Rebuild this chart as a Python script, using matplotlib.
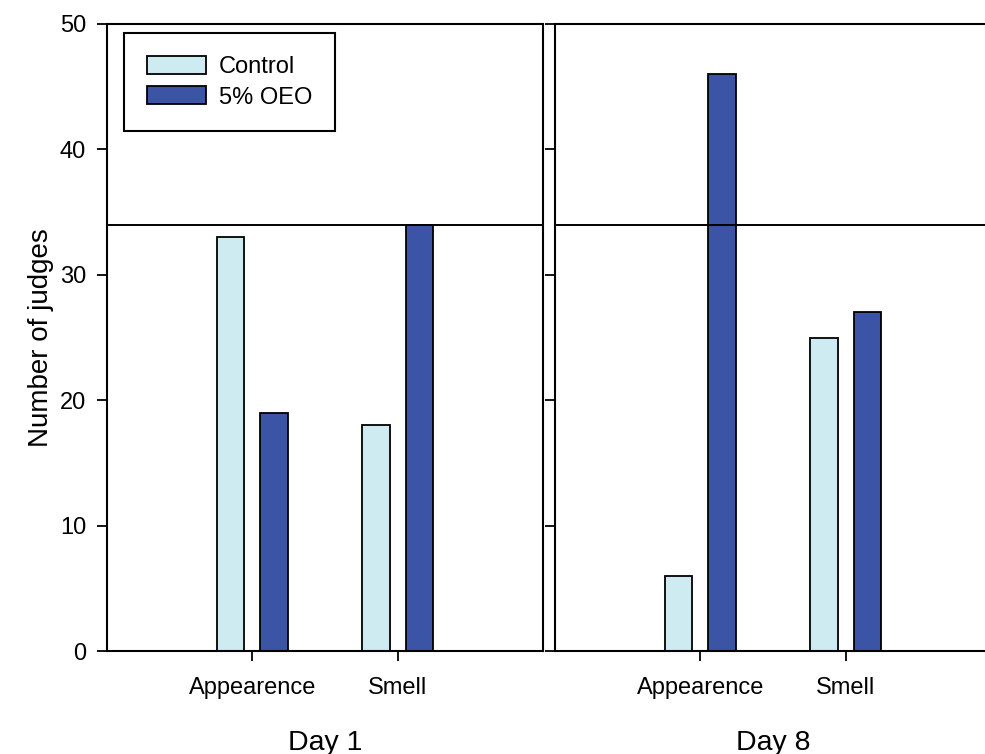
import matplotlib
matplotlib.use("Agg")
import matplotlib.pyplot as plt
import numpy as np

plt.rcParams['font.family'] = ['Liberation Sans', 'DejaVu Sans']

# Sensory panel: number of judges preferring each sample
attributes = ["Appearence", "Smell"]
days = ["Day 1", "Day 8"]
control = {"Day 1": [33, 18], "Day 8": [6, 25]}
oeo = {"Day 1": [19, 34], "Day 8": [46, 27]}
threshold = 34
series_names = ["Control", "5% OEO"]

light = "#cfebf2"
dark = "#3b54a5"

W, H = 985, 754
fig = plt.figure(figsize=(W / 100, H / 100), dpi=100)

ax_w = 436 / W
ax_h = 627 / H
ax_y0 = 103 / H
positions = [107 / W, 555 / W]

x = np.arange(1, len(attributes) + 1)
bw = 0.19
off = 0.15

axes = []
for i, day in enumerate(days):
    ax = fig.add_axes([positions[i], ax_y0, ax_w, ax_h])
    axes.append(ax)
    ax.bar(x - off, control[day], bw, color=light, edgecolor="black",
           linewidth=1.3, label=series_names[0], zorder=2)
    ax.bar(x + off, oeo[day], bw, color=dark, edgecolor="black",
           linewidth=1.3, label=series_names[1], zorder=2)
    ax.axhline(threshold, color="black", linewidth=1.4, zorder=3)
    ax.set_xlim(0, 3)
    ax.set_ylim(0, 50)
    ax.set_xticks(x)
    ax.set_xticklabels(attributes, fontsize=17)
    ax.set_yticks(np.arange(0, 51, 10))
    ax.tick_params(axis="both", direction="out", length=7, width=1.3)
    ax.tick_params(axis="x", pad=12)
    ax.tick_params(axis="y", pad=8, labelsize=17)
    for s in ax.spines.values():
        s.set_linewidth(1.5)
    if i == 1:
        ax.tick_params(axis="y", labelleft=False)
    ax.text(0.5, -0.126, day, transform=ax.transAxes, ha="center", va="top",
            fontsize=20.5)

axes[0].set_ylabel("Number of judges", fontsize=20, labelpad=4)

leg = axes[0].legend(loc="upper left", bbox_to_anchor=(0.04, 0.985),
                     fontsize=17, frameon=True, fancybox=False, framealpha=1,
                     handlelength=2.5, handleheight=0.8, handletextpad=0.55,
                     labelspacing=0.35, borderpad=0.95, borderaxespad=0)
leg.get_frame().set_edgecolor("black")
leg.get_frame().set_linewidth(1.5)

fig.savefig("out.png", dpi=100)
